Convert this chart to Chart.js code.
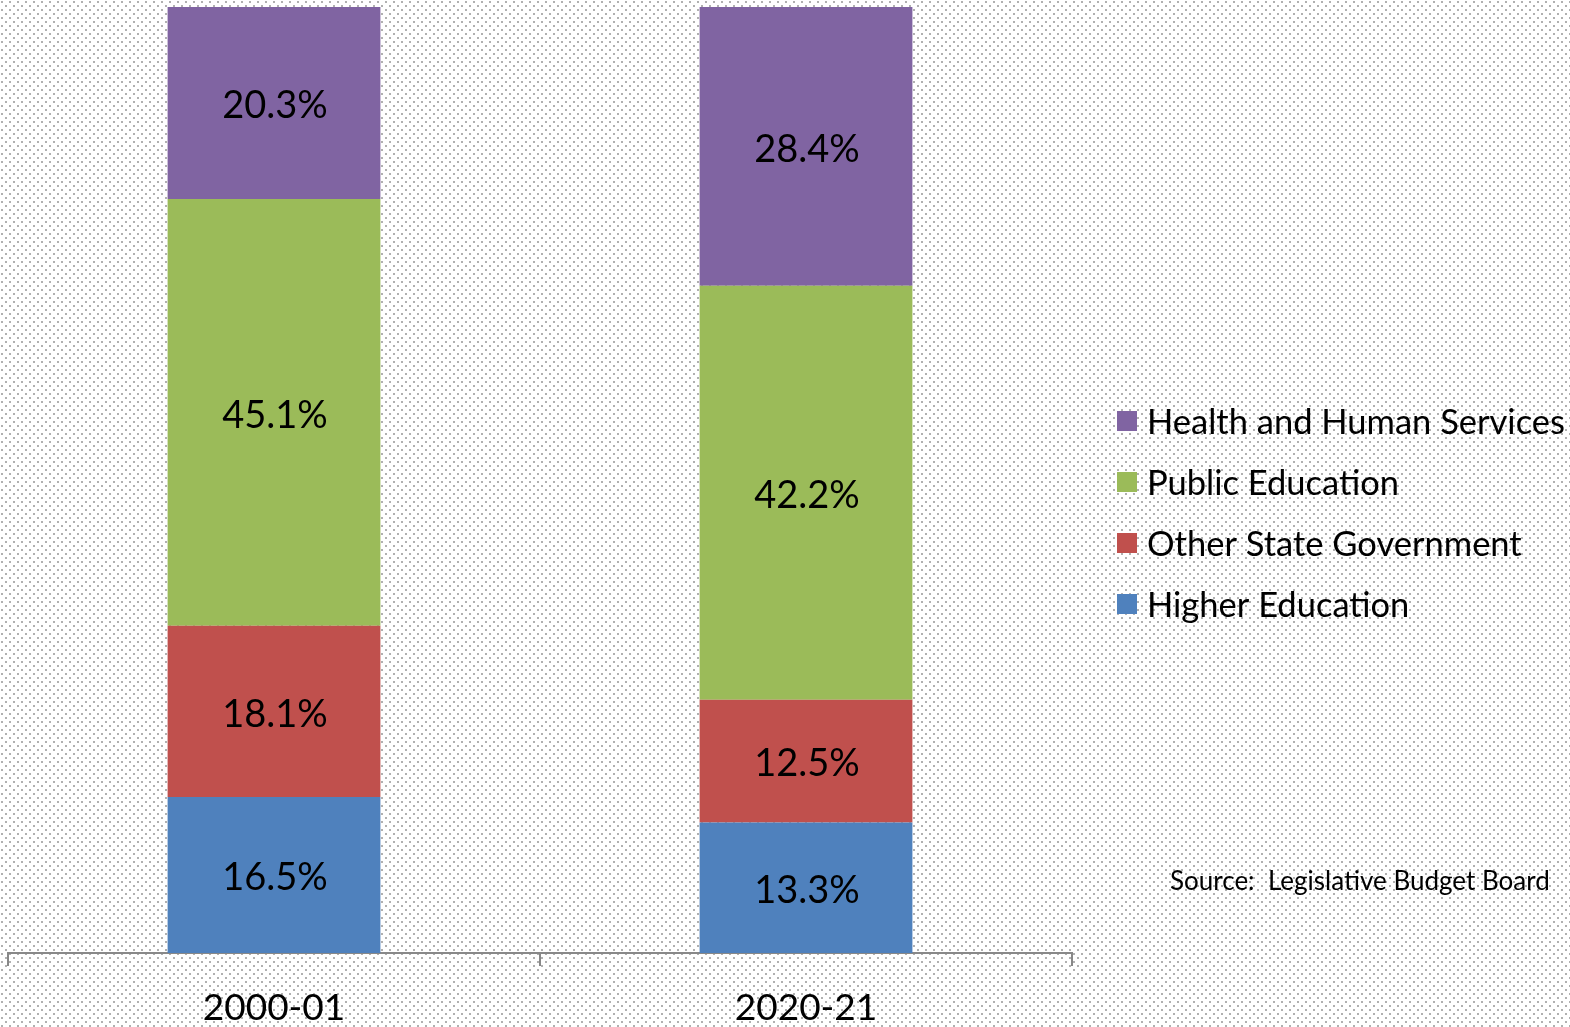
<!DOCTYPE html>
<html>
<head>
<meta charset="utf-8">
<script src="https://cdn.jsdelivr.net/npm/chart.js@4/dist/chart.umd.min.js"></script>
<style>
  html, body { margin: 0; padding: 0; background: #fff; }
  #wrap { width: 1570px; height: 1027px; }
</style>
</head>
<body>
<div id="wrap"><canvas id="c" width="1570" height="1027"></canvas></div>
<script>
// ---- data ----
const categories = ['2000-01', '2020-21'];
const higherEducation = [16.5, 13.3];
const otherStateGovernment = [18.1, 12.5];
const publicEducation = [45.1, 42.2];
const healthHumanServices = [20.3, 28.4];
const seriesNames = ['Higher Education', 'Other State Government', 'Public Education', 'Health and Human Services'];
const sourceNote = 'Source:  Legislative Budget Board';

const colors = ['#4F81BD', '#C0504D', '#9BBB59', '#8064A2'];
const FONT = 'Lato';

const seriesValues = [higherEducation, otherStateGovernment, publicEducation, healthHumanServices];
// 100% stacked: each category normalised to its own total
const totals = categories.map((_, i) => seriesValues.reduce((s, arr) => s + arr[i], 0));

const datasets = seriesValues.map((vals, k) => ({
  label: seriesNames[k],
  data: vals.map((v, i) => v / totals[i] * 100),
  rawValues: vals,
  backgroundColor: colors[k],
  borderWidth: 0,
  categoryPercentage: 0.8,
  barPercentage: 0.5
}));

// dotted background
const bgPlugin = {
  id: 'bg',
  beforeDraw(chart) {
    const ctx = chart.ctx;
    const tile = document.createElement('canvas');
    tile.width = 8; tile.height = 8;
    const t = tile.getContext('2d');
    t.fillStyle = '#ffffff'; t.fillRect(0, 0, 8, 8);
    t.fillStyle = '#b0b0b0';
    t.fillRect(1, 1, 2, 2);
    t.fillRect(5, 5, 2, 2);
    ctx.save();
    ctx.fillStyle = ctx.createPattern(tile, 'repeat');
    ctx.fillRect(0, 0, chart.width, chart.height);
    ctx.restore();
  }
};

const labelPlugin = {
  id: 'vlabels',
  afterDatasetsDraw(chart) {
    const ctx = chart.ctx;
    ctx.save();
    ctx.font = `38px ${FONT}`;
    ctx.fillStyle = '#000';
    ctx.textAlign = 'center';
    ctx.textBaseline = 'middle';
    chart.data.datasets.forEach((ds, k) => {
      const meta = chart.getDatasetMeta(k);
      meta.data.forEach((bar, i) => {
        const cy = (bar.y + bar.base) / 2;
        ctx.fillText(ds.rawValues[i].toFixed(1) + '%', bar.x + 1, cy + 3);
      });
    });
    ctx.restore();
  }
};

const legendPlugin = {
  id: 'customLegend',
  afterDraw(chart) {
    const ctx = chart.ctx;
    ctx.save();
    const x0 = 1117, y0 = 421, step = 61, box = 20;
    ctx.font = `34.5px ${FONT}`;
    ctx.textBaseline = 'middle';
    ctx.textAlign = 'left';
    const ds = chart.data.datasets;
    for (let j = 0; j < ds.length; j++) {
      const d = ds[ds.length - 1 - j];
      const y = y0 + j * step;
      ctx.fillStyle = d.backgroundColor;
      ctx.fillRect(x0, y - box / 2, box, box);
      ctx.fillStyle = '#000';
      ctx.fillText(d.label, x0 + 30, y + 2);
    }
    ctx.font = `26px ${FONT}`;
    ctx.fillText(sourceNote, 1170, 882);
    ctx.restore();
  }
};

new Chart(document.getElementById('c'), {
  type: 'bar',
  data: { labels: categories, datasets },
  options: {
    responsive: false,
    animation: false,
    devicePixelRatio: 1,
    layout: { padding: { left: 8, right: 498, top: 7, bottom: 0 } },
    plugins: { legend: { display: false }, tooltip: { enabled: false } },
    scales: {
      x: {
        stacked: true,
        grid: { display: true, drawOnChartArea: false, offset: true, tickLength: 13, color: '#888888', lineWidth: 2 },
        border: { display: true, color: '#888888', width: 2 },
        ticks: { color: '#000', font: { family: FONT, size: 37 }, padding: 20 },
        afterFit(scale) { scale.height = 74; }
      },
      y: { stacked: true, display: false, min: 0, max: 100 }
    }
  },
  plugins: [bgPlugin, labelPlugin, legendPlugin]
});
</script>
</body>
</html>
